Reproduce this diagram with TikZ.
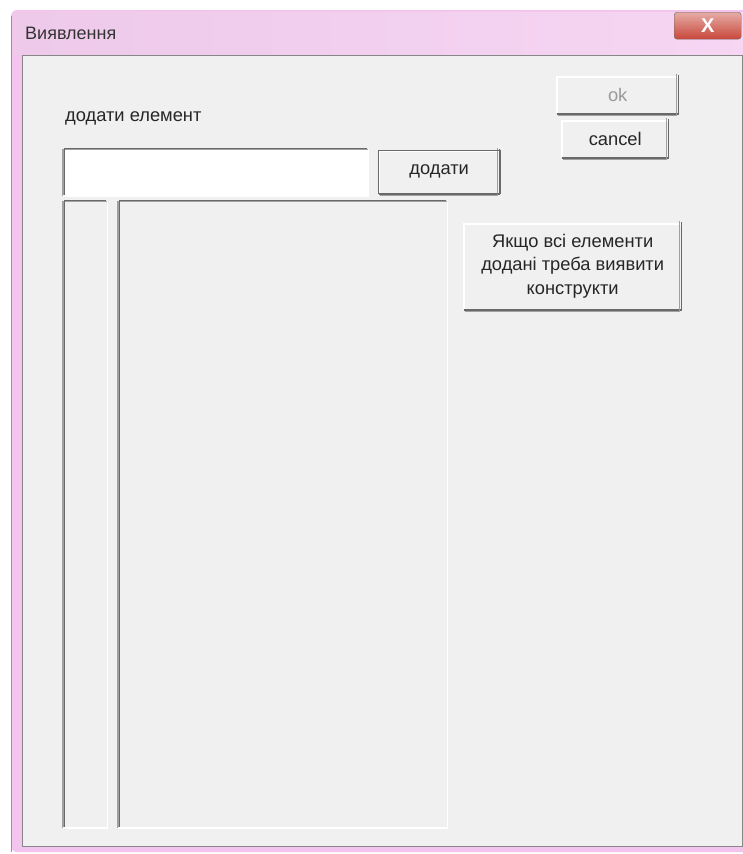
\documentclass[tikz,border=0pt]{standalone}
\usepackage{fontspec}
\setmainfont{Liberation Sans}
\usetikzlibrary{positioning}

\definecolor{framepink}{HTML}{F2C4EE}
\definecolor{titlepink}{HTML}{EEC9EA}
\definecolor{formgray}{HTML}{F0F0F0}
\definecolor{edgedark}{HTML}{696969}
\definecolor{edgemid}{HTML}{A0A0A0}
\definecolor{closered}{HTML}{C8473A}

\tikzset{
  wintext/.style={font=\fontsize{18.3}{23.5}\selectfont, text=black!85},
  pushbtn/.style={wintext, anchor=north west, fill=formgray, inner sep=0pt, align=center},
  listbox/.style={anchor=north west, fill=formgray, inner sep=0pt},
  editbox/.style={anchor=north west, fill=white, inner sep=0pt}
}

% raised (button) and sunken (list) edges round a named node
\newcommand\raisededge[1]{%
  \draw[white, line width=1.5pt] ([shift={(0.75,-0.75)}]#1.south west) |- ([shift={(-0.75,0.75)}]#1.north east);
  \draw[edgedark, line width=1.5pt] ([shift={(0.75,0.75)}]#1.south west) -| ([shift={(-0.75,-0.75)}]#1.north east);
  \draw[edgemid, line width=1pt] ([shift={(2,2.5)}]#1.south west) -| ([shift={(-2.5,-2)}]#1.north east);
}
\newcommand\sunkenedge[1]{%
  \draw[edgemid, line width=1.5pt] ([shift={(0.75,0.75)}]#1.south west) |- ([shift={(-0.75,-0.75)}]#1.north east);
  \draw[edgedark, line width=1pt] ([shift={(2,2)}]#1.south west) |- ([shift={(-2,-2)}]#1.north east);
  \draw[white, line width=1.5pt] ([shift={(0.75,0.75)}]#1.south west) -| ([shift={(-0.75,-0.75)}]#1.north east);
}

\begin{document}
\begin{tikzpicture}[x=1pt, y=-1pt]
  \useasboundingbox[fill=white] (0,0) rectangle (743,854);

  %window frame and title bar
  \fill[framepink, rounded corners=6pt] (11,10) rectangle (755,852);
  \shade[left color=titlepink, right color=framepink!70!white] (13,12) rectangle (743,54);
  \draw[edgedark!70] (11,852) -- (11,16);
  \node[anchor=base west, inner sep=0pt, text=black!80, font=\fontsize{18}{22}\selectfont] (title) at (25,39) {Виявлення};

  %close button
  \node[anchor=north west, minimum width=67pt, minimum height=27pt, inner sep=0pt,
        rounded corners=3pt, draw=edgedark, top color=closered!45!white, bottom color=closered,
        text=white, font=\bfseries\fontsize{20}{20}\selectfont] (close) at (674,12) {X};

  %client area
  \node[anchor=north west, minimum width=720pt, minimum height=791pt, inner sep=0pt,
        fill=formgray, draw=edgedark!80] (client) at (22,55) {};

  %label
  \node[wintext, anchor=base west, inner sep=0pt] (lblAdd) at (65,121) {додати елемент};

  %ok and cancel
  \node[pushbtn, minimum width=123pt, minimum height=37pt, text=black!40] (ok) at (556,76) {ok};
  \raisededge{ok}
  \node[pushbtn, minimum width=108pt, minimum height=37pt] (cancel) at (561,120) {cancel};
  \raisededge{cancel}

  %edit field and add button
  \node[editbox, minimum width=307pt, minimum height=45pt] (field) at (62,150) {};
  \sunkenedge{field}
  \node[pushbtn, minimum width=122pt, minimum height=43pt] (addBtn) at (378,150) {додати};
  \raisededge{addBtn}
  \draw[edgedark, line width=1pt] (addBtn.north west) rectangle (addBtn.south east);

  %two lists
  \node[listbox, minimum width=46pt, minimum height=625pt] (listNum) at (62,202) {};
  \sunkenedge{listNum}
  \node[listbox, minimum width=331pt, minimum height=625pt] (listElem) at (117,202) {};
  \sunkenedge{listElem}

  %construct button
  \node[pushbtn, minimum width=219pt, minimum height=86pt] (findBtn) at (463,223)
    {Якщо всі елементи\\додані треба виявити\\конструкти};
  \raisededge{findBtn}
\end{tikzpicture}
\end{document}
